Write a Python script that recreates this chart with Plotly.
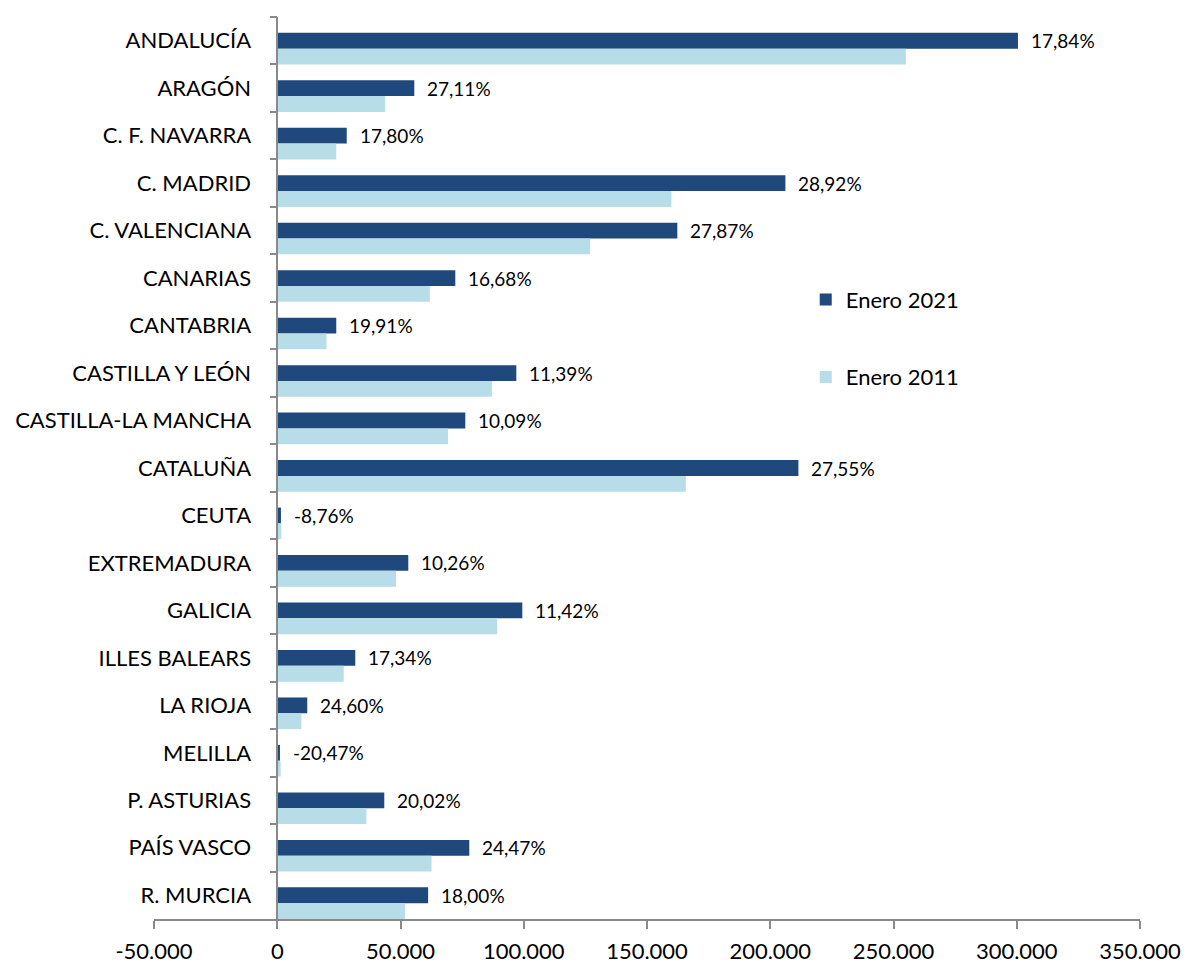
import plotly.graph_objects as go

regions = ["ANDALUCÍA", "ARAGÓN", "C. F. NAVARRA", "C. MADRID", "C. VALENCIANA",
           "CANARIAS", "CANTABRIA", "CASTILLA Y LEÓN", "CASTILLA-LA MANCHA", "CATALUÑA",
           "CEUTA", "EXTREMADURA", "GALICIA", "ILLES BALEARS", "LA RIOJA",
           "MELILLA", "P. ASTURIAS", "PAÍS VASCO", "R. MURCIA"]

enero_2021 = [300500, 55600, 28200, 206150, 162300,
              72230, 23940, 96990, 76290, 211420,
              1500, 53160, 99420, 31650, 12170,
              1100, 43420, 77910, 61200]

enero_2011 = [255000, 43750, 23940, 159900, 126930,
              61900, 19970, 87070, 69300, 165750,
              1645, 48210, 89230, 26980, 9770,
              1383, 36180, 62600, 51860]

variacion = ["17,84%", "27,11%", "17,80%", "28,92%", "27,87%",
             "16,68%", "19,91%", "11,39%", "10,09%", "27,55%",
             "-8,76%", "10,26%", "11,42%", "17,34%", "24,60%",
             "-20,47%", "20,02%", "24,47%", "18,00%"]

x_tickvals = [-50000, 0, 50000, 100000, 150000, 200000, 250000, 300000, 350000]
x_ticktext = ["-50.000", "0", "50.000", "100.000", "150.000", "200.000",
              "250.000", "300.000", "350.000"]

FONT = "Lato"
DARK = "#1F497D"
LIGHT = "#B7DEE8"
AXIS = "#8A8A8A"

fig = go.Figure()
fig.add_trace(go.Bar(
    name="Enero 2021", x=enero_2021, y=regions, orientation="h",
    marker=dict(color=DARK, line=dict(width=0)),
    width=1/3, offset=-1/6, legend="legend",
))
fig.add_trace(go.Bar(
    name="Enero 2011", x=enero_2011, y=regions, orientation="h",
    marker=dict(color=LIGHT, line=dict(width=0)),
    width=1/3, offset=1/6, legend="legend2",
))

for r, v, t in zip(regions, enero_2021, variacion):
    fig.add_annotation(x=v, y=r, xref="x", yref="y", text=t, showarrow=False,
                       xanchor="left", yanchor="middle", xshift=11,
                       font=dict(family=FONT, size=19, color="#000000"))

x0_pos = (0 - (-50000)) / 400000

fig.update_layout(
    width=1187, height=965,
    margin=dict(l=154, r=47, t=17, b=46, autoexpand=False),
    paper_bgcolor="white", plot_bgcolor="white",
    barmode="overlay",
    font=dict(family=FONT, size=22, color="#000000"),
    separators=",.",
    xaxis=dict(
        range=[-50000, 350000], domain=[0, 1],
        tickvals=x_tickvals, ticktext=x_ticktext,
        showgrid=False, zeroline=False,
        showline=True, linecolor=AXIS, linewidth=1.5,
        ticks="outside", ticklen=8, tickcolor=AXIS, tickwidth=1.5,
        ticklabelstandoff=4,
        tickfont=dict(family=FONT, size=22, color="#000000"),
        automargin=False,
    ),
    yaxis=dict(
        autorange="reversed", anchor="free", position=x0_pos,
        showgrid=False, zeroline=False,
        showline=True, linecolor=AXIS, linewidth=1.5,
        ticks="outside", ticklen=7, tickcolor=AXIS, tickwidth=1.5,
        tickson="boundaries", ticklabelstandoff=21,
        tickfont=dict(family=FONT, size=22, color="#000000"),
        automargin=False,
    ),
    legend=dict(x=0.661, y=0.6867, xanchor="left", yanchor="middle",
                bgcolor="rgba(0,0,0,0)", font=dict(family=FONT, size=22)),
    legend2=dict(x=0.661, y=0.6008, xanchor="left", yanchor="middle",
                 bgcolor="rgba(0,0,0,0)", font=dict(family=FONT, size=22)),
    showlegend=True,
)

fig.write_html("out.html", config={"displayModeBar": False},
               post_script="document.body.style.margin='0px';document.body.style.overflow='hidden';")
